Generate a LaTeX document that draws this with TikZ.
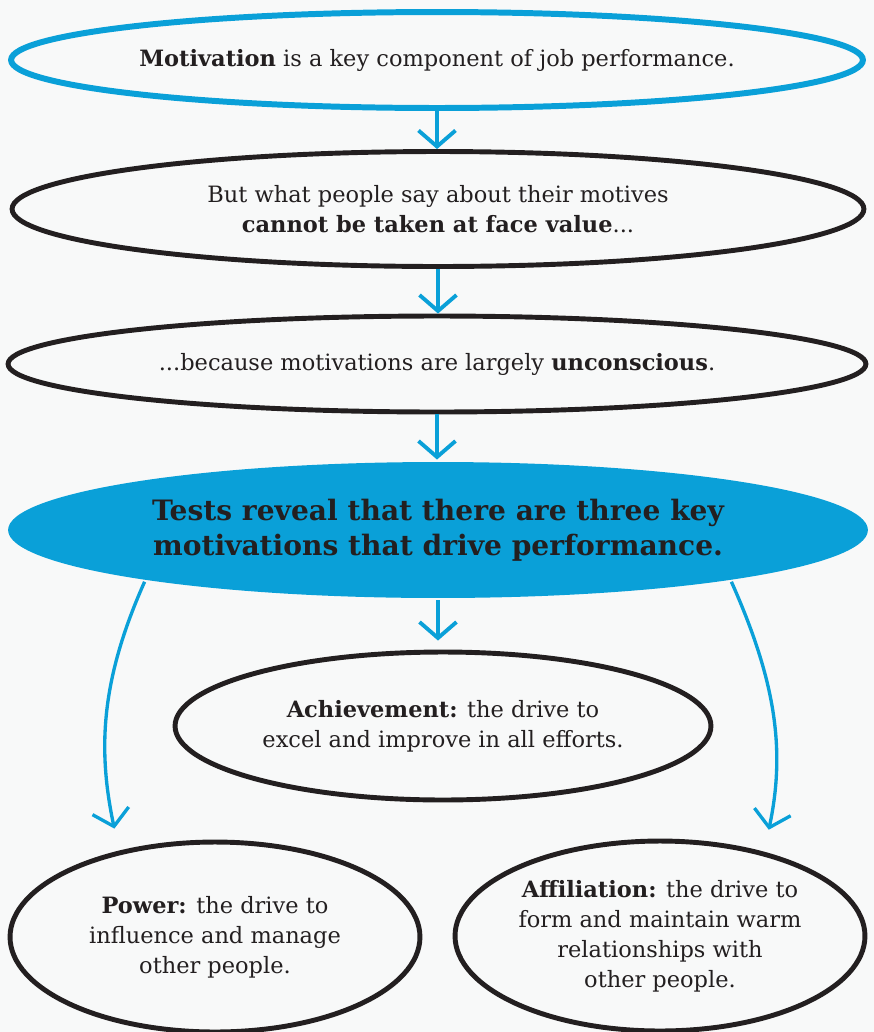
\documentclass[tikz,border=0pt]{standalone}
\usepackage{fontspec}
\setmainfont{DejaVu Serif}
\usetikzlibrary{arrows.meta,shapes.geometric}
\definecolor{Sky}{HTML}{0AA0D8}
\definecolor{Ink}{HTML}{231F20}
\definecolor{Paper}{HTML}{F8F9F9}

\begin{document}
\begin{tikzpicture}[x=0.02cm,y=-0.02cm]
    \tikzset{bubble/.style={ellipse,draw=Ink,line width=2.8pt,align=center,text=Ink,
      inner sep=0pt,font=\fontsize{12.8}{17}\selectfont},
      skyring/.style={bubble,draw=Sky,line width=3.4pt},
      skydisc/.style={bubble,draw=none,fill=Sky,font=\fontsize{16}{20}\selectfont\bfseries},
      flow/.style={draw=Sky,line width=2.2pt,-{Straight Barb[length=3.2mm,width=7.4mm]}}}
    \fill[Paper] (0,0) rectangle (874,1032);
    \useasboundingbox (0,0) rectangle (874,1032);

    % Chain of statements
    \node[skyring,minimum width=17.04cm,minimum height=1.92cm] (motive) at (437,60)
      {\textbf{Motivation} is a key component of job performance.};
    \node[bubble,minimum width=17.04cm,minimum height=2.3cm] (face) at (438,209)
      {But what people say about their motives\\\textbf{cannot be taken at face value}...};
    \node[bubble,minimum width=17.16cm,minimum height=1.92cm] (uncon) at (437,364)
      {...because motivations are largely \textbf{unconscious}.};
    \node[skydisc,minimum width=17.2cm,minimum height=2.72cm] (tests) at (438,530)
      {Tests reveal that there are three key\\motivations that drive performance.};

    % The three motivations
    \node[bubble,minimum width=10.72cm,minimum height=2.96cm] (achieve) at (443,726)
      {\textbf{Achievement:} the drive to\\excel and improve in all efforts.};
    \node[bubble,minimum width=8.2cm,minimum height=3.8cm] (power) at (215,937)
      {\textbf{Power:} the drive to\\influence and manage\\other people.};
    \node[bubble,minimum width=8.2cm,minimum height=3.8cm] (affil) at (660,936)
      {\textbf{Affiliation:} the drive to\\form and maintain warm\\relationships with\\other people.};

    % Arrows
    \draw[flow] (motive.south) -- (motive.south |- face.north);
    \draw[flow] (face.south) -- (face.south |- uncon.north);
    \draw[flow] (uncon.south) -- (uncon.south |- tests.north);
    \draw[flow,shorten >=0.18cm] (tests.south) -- (tests.south |- achieve.north);
    \draw[flow,line width=1.9pt,shorten >=0.45cm] (tests.190) to[out=246,in=102] (power.138);
    \draw[flow,line width=1.9pt,shorten >=0.45cm] (tests.-10) to[out=-66,in=78] (affil.39);
  \end{tikzpicture}
\end{document}
